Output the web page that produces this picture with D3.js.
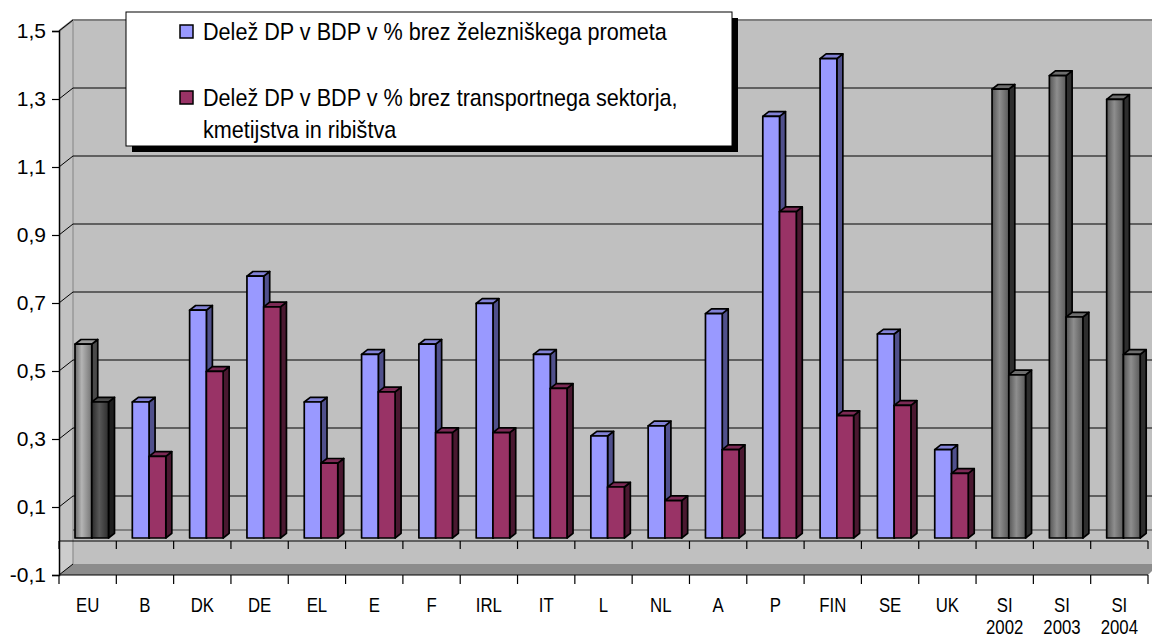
<!DOCTYPE html>
<html>
<head>
<meta charset="utf-8">
<script src="https://cdn.jsdelivr.net/npm/d3@7"></script>
<style>
  body { margin: 0; background: #fff; }
  svg { display: block; font-family: Arial, "Liberation Sans", sans-serif; }
</style>
</head>
<body>
<div id="chart"></div>
<script>
const width = 1152;
const height = 637;

// data
const categories = ["EU", "B", "DK", "DE", "EL", "E", "F", "IRL", "IT", "L", "NL", "A", "P", "FIN", "SE", "UK", "SI\n2002", "SI\n2003", "SI\n2004"];
const withoutRail = [0.57, 0.40, 0.67, 0.77, 0.40, 0.54, 0.57, 0.69, 0.54, 0.30, 0.33, 0.66, 1.24, 1.41, 0.60, 0.26, 1.32, 1.36, 1.29];
const withoutTransport = [0.40, 0.24, 0.49, 0.68, 0.22, 0.43, 0.31, 0.31, 0.44, 0.15, 0.11, 0.26, 0.96, 0.36, 0.39, 0.19, 0.48, 0.65, 0.54];
const seriesNames = [
  "Delež DP v BDP v % brez železniškega prometa",
  "Delež DP v BDP v % brez transportnega sektorja,\nkmetijstva in ribištva"
];
const tickValues = [-0.1, 0.1, 0.3, 0.5, 0.7, 0.9, 1.1, 1.3, 1.5];

// 3d geometry: back wall offset and bar depth
const wallDx = 14, wallDy = -11;
const barShiftX = 3.5, barShiftY = -3;
const barDx = 6, barDy = -4.7;

const y = d3.scaleLinear().domain([-0.1, 1.5]).range([575, 31]);
const x = d3.scaleBand().domain(categories).range([59, 1148]);
const xInner = d3.scaleBand().domain([0, 1]).range([12.5, 46]);

const fmt = d => d3.format(".1f")(d).replace(".", ",").replace("\u2212", "-");

const svg = d3.select("#chart").append("svg")
  .attr("width", width)
  .attr("height", height);

const defs = svg.append("defs");
function grad(id, stops) {
  const g = defs.append("linearGradient").attr("id", id)
    .attr("x1", 0).attr("x2", 1).attr("y1", 0).attr("y2", 0);
  stops.forEach(([o, c]) => g.append("stop").attr("offset", o).attr("stop-color", c));
}
grad("gEuA", [[0, "#6a6a6a"], [0.4, "#b4b4b4"], [1, "#747474"]]);
grad("gEuB", [[0, "#2a2a2a"], [0.45, "#585858"], [1, "#2e2e2e"]]);
grad("gSi", [[0, "#555"], [0.45, "#8e8e8e"], [1, "#5a5a5a"]]);

const styles = {
  blue: { front: "#9999ff", top: "#8282d6", side: "#50508c" },
  red: { front: "#993366", top: "#7c2a55", side: "#4a1830" },
  euA: { front: "url(#gEuA)", top: "#9a9a9a", side: "#4a4a4a" },
  euB: { front: "url(#gEuB)", top: "#4a4a4a", side: "#1e1e1e" },
  si: { front: "url(#gSi)", top: "#6e6e6e", side: "#2e2e2e" }
};
function styleFor(cat, i) {
  if (cat === "EU") return i === 0 ? styles.euA : styles.euB;
  if (cat.startsWith("SI")) return styles.si;
  return i === 0 ? styles.blue : styles.red;
}

const x0 = x.range()[0], x1 = x.range()[1];
const yTop = y(1.5), yBottom = y(-0.1), yZero = y(0);

// back wall
svg.append("rect")
  .attr("x", x0 + wallDx).attr("y", yTop + wallDy)
  .attr("width", width - x0 - wallDx).attr("height", yBottom - yTop)
  .attr("fill", "#c0c0c0");

// left side wall
svg.append("path")
  .attr("d", `M${x0},${yTop}L${x0 + wallDx},${yTop + wallDy}L${x0 + wallDx},${yBottom + wallDy}L${x0},${yBottom}Z`)
  .attr("fill", "#c2c2c2");
svg.append("path")
  .attr("d", `M${x0},${yZero}L${x0 + wallDx},${yZero}L${x0 + wallDx},${yBottom + wallDy}L${x0},${yBottom}Z`)
  .attr("fill", "#cdcdcd");

// floor band below zero
svg.append("path")
  .attr("d", `M${x0},${yBottom}L${x0 + wallDx},${yBottom + wallDy}L${width},${yBottom + wallDy}L${width},${yBottom - 4}L${x1},${yBottom}Z`)
  .attr("fill", "#8c8c8c");

// wall edges
svg.append("path")
  .attr("d", `M${x0},${yTop}L${x0 + wallDx},${yTop + wallDy}L${width},${yTop + wallDy}`)
  .attr("fill", "none").attr("stroke", "#808080").attr("stroke-width", 2);
svg.append("line")
  .attr("x1", x0 + wallDx).attr("x2", x0 + wallDx)
  .attr("y1", yTop + wallDy).attr("y2", yBottom + wallDy)
  .attr("stroke", "#999").attr("stroke-width", 1.5);

// gridlines on back wall and side wall
const grid = svg.append("g").attr("stroke", "#000").attr("stroke-width", 1);
tickValues.filter(v => v > -0.1 && v < 1.5).forEach(v => {
  grid.append("line")
    .attr("x1", x0 + wallDx).attr("x2", width)
    .attr("y1", y(v) + wallDy).attr("y2", y(v) + wallDy);
});
tickValues.forEach(v => {
  grid.append("line")
    .attr("x1", x0).attr("x2", x0 + wallDx)
    .attr("y1", y(v)).attr("y2", y(v) + wallDy);
});
// floor back edge at zero
svg.append("line")
  .attr("x1", x0 + wallDx).attr("x2", width)
  .attr("y1", yZero + wallDy).attr("y2", yZero + wallDy)
  .attr("stroke", "#404040").attr("stroke-width", 1);

// bars
const barsG = svg.append("g")
  .attr("stroke", "#000").attr("stroke-width", 1.7).attr("stroke-linejoin", "round");
const bw = xInner.bandwidth();
const base = yZero + barShiftY;
categories.forEach((cat, ci) => {
  [withoutRail[ci], withoutTransport[ci]].forEach((v, si) => {
    const st = styleFor(cat, si);
    const left = x(cat) + xInner(si) + barShiftX;
    const right = left + bw;
    const top = y(v) + barShiftY;
    const g = barsG.append("g");
    g.append("path")
      .attr("d", `M${right},${top}L${right + barDx},${top + barDy}L${right + barDx},${base + barDy}L${right},${base}Z`)
      .attr("fill", st.side);
    g.append("path")
      .attr("d", `M${left},${top}L${left + barDx},${top + barDy}L${right + barDx},${top + barDy}L${right},${top}Z`)
      .attr("fill", st.top);
    g.append("rect")
      .attr("x", left).attr("y", top)
      .attr("width", bw).attr("height", base - top)
      .attr("fill", st.front);
  });
});

// category axis at zero and at the bottom
const boundaries = categories.map(c => x(c)).concat([x1]);
[[yZero, 8], [yBottom, 9]].forEach(([yy, len]) => {
  const g = svg.append("g").attr("stroke", "#000").attr("stroke-width", 1.2);
  g.append("line").attr("x1", x0).attr("x2", x1).attr("y1", yy).attr("y2", yy);
  g.selectAll("line.tick").data(boundaries).join("line")
    .attr("class", "tick")
    .attr("x1", d => d).attr("x2", d => d)
    .attr("y1", yy).attr("y2", yy + len);
});

// value axis
const yAxis = d3.axisLeft(y).tickValues(tickValues).tickFormat(fmt).tickSize(7).tickPadding(6);
const ya = svg.append("g").attr("transform", `translate(${x0},0)`).call(yAxis);
ya.select(".domain").attr("stroke", "#000").attr("stroke-width", 1.5);
ya.selectAll(".tick line").attr("stroke", "#000").attr("stroke-width", 1.2);
ya.selectAll(".tick text")
  .attr("font-size", 21).attr("fill", "#000")
  .attr("font-family", "Arial, 'Liberation Sans', sans-serif");

// category labels (narrow, tall glyphs as in the source)
const labels = svg.append("g").attr("font-size", 20).attr("text-anchor", "middle").attr("fill", "#000");
categories.forEach(cat => {
  const cx = x(cat) + x.bandwidth() / 2;
  const t = labels.append("text")
    .attr("transform", `translate(${cx},612) scale(0.84,1)`);
  cat.split("\n").forEach((line, i) => {
    t.append("tspan")
      .attr("x", 0)
      .attr("dy", i === 0 ? 0 : 22)
      .text(line);
  });
});

// legend
const legend = svg.append("g");
legend.append("rect")
  .attr("x", 132).attr("y", 18).attr("width", 606).attr("height", 134)
  .attr("fill", "#000");
legend.append("rect")
  .attr("x", 126).attr("y", 12).attr("width", 606).attr("height", 134)
  .attr("fill", "#fff").attr("stroke", "#000").attr("stroke-width", 1);
const legendSwatch = [styles.blue.front, styles.red.front];
const legendY = [32, 98];
seriesNames.forEach((name, i) => {
  legend.append("rect")
    .attr("x", 180).attr("y", legendY[i] - 7)
    .attr("width", 13).attr("height", 13)
    .attr("fill", legendSwatch[i]).attr("stroke", "#000").attr("stroke-width", 1.5);
  const t = legend.append("text")
    .attr("transform", `translate(203,${legendY[i] + 8}) scale(0.9,1)`)
    .attr("font-size", 24).attr("fill", "#000");
  name.split("\n").forEach((line, j) => {
    t.append("tspan").attr("x", 0).attr("dy", j === 0 ? 0 : 32).text(line);
  });
});
</script>
</body>
</html>
